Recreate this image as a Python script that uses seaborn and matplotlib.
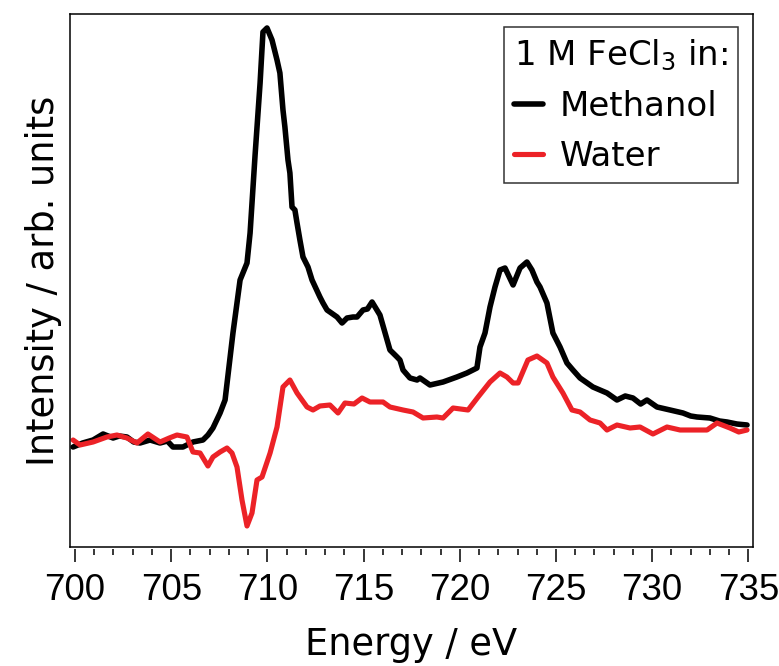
import matplotlib
matplotlib.use("Agg")
import matplotlib.pyplot as plt
import seaborn as sns
import pandas as pd
from matplotlib.ticker import MultipleLocator

# ---- data ----
methanol_energy = [699.90, 700.40, 700.94, 701.46, 701.98, 702.30, 702.70, 703.05, 703.38, 703.90,
                   704.42, 704.80, 705.09, 705.61, 706.13, 706.65, 706.91, 707.17, 707.54, 707.80,
                   708.21, 708.58, 708.94, 709.10, 709.36, 709.62, 709.77, 709.98, 710.24, 710.50,
                   710.65, 710.81, 710.91, 711.07, 711.17, 711.28, 711.43, 711.54, 711.69, 711.85,
                   712.11, 712.32, 712.73, 712.89, 713.10, 713.25, 713.62, 713.88, 714.14, 714.45,
                   714.66, 714.97, 715.20, 715.44, 715.85, 716.37, 716.53, 716.74, 716.89, 717.05,
                   717.41, 717.78, 717.93, 718.45, 719.13, 719.85, 720.37, 720.89, 721.05, 721.31,
                   721.57, 721.83, 722.09, 722.35, 722.77, 723.13, 723.49, 723.75, 724.01, 724.17,
                   724.53, 724.84, 725.21, 725.57, 725.88, 726.25, 726.92, 727.65, 728.17, 728.60,
                   729.00, 729.40, 729.73, 730.25, 730.93, 731.60, 732.00, 732.33, 733.00, 733.50,
                   733.89, 734.40, 734.93]
methanol_intensity = [-0.07, -0.03, 0.00, 0.06, 0.02, 0.04, 0.03, -0.02, -0.03, 0.00,
                      -0.03, -0.01, -0.07, -0.07, -0.02, 0.00, 0.05, 0.12, 0.27, 0.40,
                      1.07, 1.60, 1.77, 2.07, 2.85, 3.57, 4.08, 4.12, 4.00, 3.80,
                      3.67, 3.30, 3.13, 2.80, 2.67, 2.33, 2.30, 2.17, 2.00, 1.83,
                      1.73, 1.60, 1.43, 1.37, 1.30, 1.28, 1.23, 1.17, 1.22, 1.23,
                      1.23, 1.30, 1.31, 1.38, 1.25, 0.90, 0.87, 0.83, 0.80, 0.70,
                      0.62, 0.60, 0.62, 0.55, 0.58, 0.63, 0.67, 0.72, 0.93, 1.07,
                      1.33, 1.53, 1.70, 1.72, 1.55, 1.72, 1.78, 1.70, 1.58, 1.53,
                      1.37, 1.07, 0.93, 0.77, 0.70, 0.62, 0.53, 0.47, 0.40, 0.44,
                      0.42, 0.36, 0.40, 0.33, 0.30, 0.27, 0.24, 0.23, 0.22, 0.19,
                      0.18, 0.16, 0.15]

water_energy = [699.90, 700.26, 700.94, 701.66, 702.18, 702.70, 703.22, 703.79, 704.42, 704.90,
                705.30, 705.82, 706.13, 706.50, 706.91, 707.17, 707.54, 707.90, 708.16, 708.42,
                708.68, 708.94, 709.20, 709.46, 709.72, 710.14, 710.50, 710.81, 711.17, 711.54,
                712.06, 712.37, 712.73, 713.25, 713.67, 714.03, 714.50, 714.92, 715.33, 716.01,
                716.37, 717.05, 717.57, 718.09, 718.81, 719.13, 719.65, 720.43, 720.95, 721.57,
                722.09, 722.45, 722.77, 723.03, 723.54, 724.01, 724.53, 724.84, 725.36, 725.83,
                726.25, 726.77, 727.29, 727.65, 728.17, 728.85, 729.37, 730.04, 730.77, 731.45,
                732.12, 732.85, 733.37, 734.04, 734.50, 734.93]
water_intensity = [0.00, -0.05, -0.02, 0.03, 0.05, 0.02, -0.03, 0.06, -0.02, 0.02,
                   0.05, 0.03, -0.12, -0.13, -0.26, -0.17, -0.12, -0.08, -0.13, -0.27,
                   -0.60, -0.86, -0.73, -0.40, -0.37, -0.13, 0.13, 0.53, 0.60, 0.47,
                   0.33, 0.30, 0.34, 0.35, 0.27, 0.37, 0.36, 0.42, 0.38, 0.38,
                   0.33, 0.30, 0.28, 0.22, 0.23, 0.22, 0.32, 0.30, 0.43, 0.58,
                   0.67, 0.63, 0.57, 0.57, 0.80, 0.84, 0.77, 0.63, 0.47, 0.30,
                   0.28, 0.20, 0.17, 0.10, 0.15, 0.12, 0.13, 0.06, 0.13, 0.10,
                   0.10, 0.10, 0.17, 0.12, 0.08, 0.10]

series_names = ["Methanol", "Water"]
legend_title = "1 M FeCl$_3$ in:"
x_label = "Energy / eV"
y_label = "Intensity / arb. units"
x_ticks = [700, 705, 710, 715, 720, 725, 730, 735]

df_m = pd.DataFrame({"Energy": methanol_energy, "Intensity": methanol_intensity, "Solvent": series_names[0]})
df_w = pd.DataFrame({"Energy": water_energy, "Intensity": water_intensity, "Solvent": series_names[1]})

sns.set_style("white")
plt.rcParams["font.family"] = ["DejaVu Sans"]
plt.rcParams["text.color"] = "black"
plt.rcParams["axes.labelcolor"] = "black"
plt.rcParams["xtick.color"] = "black"
plt.rcParams["ytick.color"] = "black"

fig = plt.figure(figsize=(7.79, 6.66), dpi=100)
ax = fig.add_axes([70 / 779, 1 - 547 / 666, 683 / 779, 533 / 666])

sns.lineplot(data=df_m, x="Energy", y="Intensity", color="black", lw=4.0,
             estimator=None, ax=ax, label=series_names[0],
             solid_joinstyle="round", solid_capstyle="round")
sns.lineplot(data=df_w, x="Energy", y="Intensity", color="#ec2227", lw=3.7,
             estimator=None, ax=ax, label=series_names[1],
             solid_joinstyle="round", solid_capstyle="round")

ax.set_xlim(699.74, 735.24)
ax.set_ylim(-1.07, 4.26)
ax.set_yticks([])
ax.set_xlabel("")
ax.set_ylabel(y_label, fontsize=26.5, labelpad=6, color="black")
ax.tick_params(bottom=False, labelbottom=False, left=False)
for s in ax.spines.values():
    s.set_visible(True)
    s.set_color("black")
    s.set_linewidth(1.1)

sec = ax.secondary_xaxis(-0.004)
sec.spines["bottom"].set_visible(False)
sec.set_xticks(x_ticks)
sec.xaxis.set_minor_locator(MultipleLocator(1))
sec.tick_params(axis="x", which="major", direction="out", length=9, width=1.1,
                pad=8, labelsize=26.5, colors="black")
sec.tick_params(axis="x", which="minor", direction="out", length=4.5, width=1.1, colors="black")
for lab in sec.get_xticklabels():
    lab.set_family("Liberation Sans")
    lab.set_color("black")
sec.set_xlabel(x_label, fontsize=26.5, labelpad=13, color="black")

leg = ax.legend(title=legend_title, loc="upper right", bbox_to_anchor=(0.978, 0.9756),
                borderaxespad=0, frameon=True, fancybox=False, fontsize=24.5,
                title_fontsize=24.5, alignment="left", handlelength=0.85,
                handletextpad=0.5, labelspacing=0.5, borderpad=0.3)
leg.get_frame().set_edgecolor("black")
leg.get_frame().set_linewidth(1.1)
for t in leg.get_texts():
    t.set_color("black")
leg.get_title().set_color("black")

fig.savefig("out.png", dpi=100)
